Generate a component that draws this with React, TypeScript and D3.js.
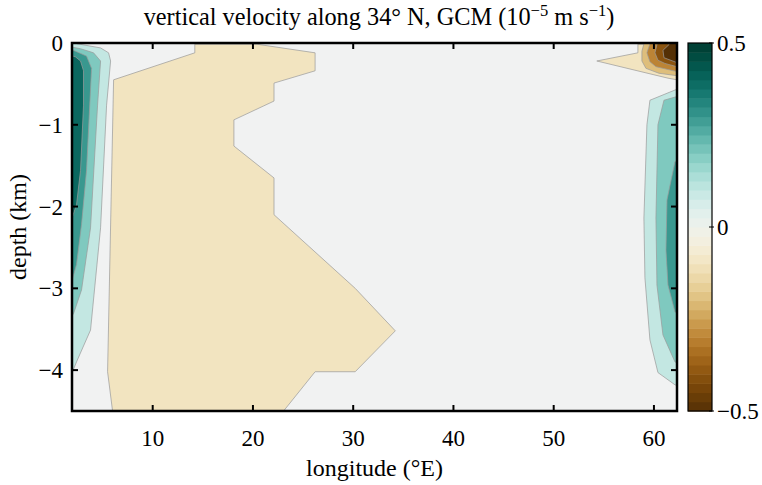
import React from 'react';
import * as d3 from 'd3';

type Pt = [number, number]; // [longitude °E, depth km]

// contour regions, [lon, depth]
const tanBasin: Pt[] = [[6.1, -4.6], [5.5, -4.02], [6.1, -0.45], [14.2, -0.12], [14.2, -0.015], [20.4, -0.015], [26.2, -0.12], [26.2, -0.34], [22.1, -0.49], [22.1, -0.71], [18.1, -0.94], [18.1, -1.26], [22.1, -1.65], [22.1, -2.1], [30.2, -3.0], [34.2, -3.52], [30.2, -4.02], [26.2, -4.02], [22.4, -4.6]];
const eastTan: Pt[] = [[54.3, -0.22], [58.4, -0.12], [58.4, -0.015], [63, -0.015], [63, -0.46], [62.3, -0.45], [61.4, -0.43]];
const eastBrown2: Pt[] = [[59.0, 0.05], [59.0, -0.01], [58.8, -0.10], [58.8, -0.22], [59.2, -0.31], [60.5, -0.37], [62.3, -0.40], [63, -0.41], [63, 0.05]];
const eastBrown3: Pt[] = [[59.6, 0.05], [59.6, -0.01], [59.3, -0.12], [59.6, -0.23], [60.2, -0.29], [62.3, -0.35], [63, -0.36], [63, 0.05]];
const eastBrown4: Pt[] = [[60.3, 0.05], [60.3, -0.02], [60.1, -0.12], [60.4, -0.21], [61.1, -0.25], [62.3, -0.29], [63, -0.30], [63, 0.05]];
const eastBrown5: Pt[] = [[61.5, 0.05], [61.5, -0.02], [60.9, -0.09], [61.0, -0.18], [62.3, -0.24], [63, -0.25], [63, 0.05]];

const westTeal1: Pt[] = [[1.5, 0.1], [2.5, -0.01], [4.8, -0.06], [5.6, -0.12], [5.8, -0.22], [5.4, -0.76], [4.8, -2.26], [3.8, -3.51], [2.4, -3.9], [2.0, -4.02], [1.5, -4.1]];
const westTeal2: Pt[] = [[1.5, -0.04], [2.8, -0.07], [4.1, -0.12], [4.8, -0.22], [4.5, -0.76], [3.8, -2.26], [2.9, -3.02], [2.1, -3.31], [1.5, -3.4]];
const westTeal3: Pt[] = [[1.5, -0.06], [2.3, -0.10], [3.4, -0.16], [3.9, -0.31], [3.4, -1.56], [2.9, -2.22], [2.4, -2.71], [1.5, -3.1]];
const westTeal4: Pt[] = [[1.5, -0.14], [2.3, -0.17], [2.8, -0.22], [3.1, -0.34], [3.1, -0.76], [2.8, -1.56], [2.4, -1.98], [1.5, -2.3]];

const eastTeal1: Pt[] = [[63, -0.55], [62.2, -0.57], [59.6, -0.70], [59.3, -1.0], [59.0, -2.14], [59.1, -2.87], [59.6, -3.63], [60.4, -4.03], [62.1, -4.18], [63, -4.22]];
const eastTeal2: Pt[] = [[63, -0.63], [61.0, -0.70], [60.4, -1.0], [60.2, -2.14], [60.3, -2.96], [60.9, -3.57], [62.1, -3.9], [63, -3.95]];
const eastTeal3: Pt[] = [[63, -1.4], [62.1, -1.45], [61.3, -1.92], [61.2, -2.53], [61.4, -2.96], [62.1, -3.29], [63, -3.35]];

// drawing order: weakest first
const bands: { level: number; pts: Pt[] }[] = [
  { level: -0.1, pts: tanBasin },
  { level: -0.1, pts: eastTan },
  { level: -0.2, pts: eastBrown2 },
  { level: -0.3, pts: eastBrown3 },
  { level: -0.4, pts: eastBrown4 },
  { level: -0.5, pts: eastBrown5 },
  { level: 0.1, pts: westTeal1 },
  { level: 0.2, pts: westTeal2 },
  { level: 0.3, pts: westTeal3 },
  { level: 0.4, pts: westTeal4 },
  { level: 0.1, pts: eastTeal1 },
  { level: 0.2, pts: eastTeal2 },
  { level: 0.3, pts: eastTeal3 },
];

const lonTicks = [10, 20, 30, 40, 50, 60];
const depthTicks = [0, -1, -2, -3, -4];
const cbarTicks = [0.5, 0, -0.5];

const W = 762, H = 485;
const plot = { left: 72, right: 677, top: 43, bottom: 411 };
const cbar = { left: 688, right: 712 };
const serif = '"Liberation Serif", "DejaVu Serif", serif';
const fmt = (v: number) => (v < 0 ? '\u2212' + Math.abs(v) : String(v));

export default function App() {
  const x = d3.scaleLinear().domain([1.95, 62.3]).range([plot.left, plot.right]);
  const y = d3.scaleLinear().domain([0, -4.5]).range([plot.top, plot.bottom]);
  const color = (v: number) => d3.interpolateBrBG(0.5 + v);
  const cy = d3.scaleLinear().domain([0.5, -0.5]).range([plot.top, plot.bottom]);
  const path = d3.line<Pt>().x(d => x(d[0])).y(d => y(d[1])).curve(d3.curveLinearClosed);
  const steps = d3.range(-0.5, 0.5, 0.025);

  return (
    <svg width={W} height={H} style={{ position: 'absolute', left: 0, top: 0, background: '#fff' }} fontFamily={serif}>
      <defs>
        <clipPath id="plotclip">
          <rect x={plot.left} y={plot.top} width={plot.right - plot.left} height={plot.bottom - plot.top} />
        </clipPath>
      </defs>
      <g clipPath="url(#plotclip)">
        <rect x={plot.left} y={plot.top} width={plot.right - plot.left} height={plot.bottom - plot.top} fill="#f1f2f2" />
        {bands.map((b, i) => (
          <path key={i} d={path(b.pts) || ''} fill={color(b.level)} stroke="#9a9a9a" strokeOpacity={0.8} strokeWidth={0.9} />
        ))}
      </g>

      {/* ticks, inward on all four sides */}
      {lonTicks.map(t => (
        <g key={'x' + t}>
          <line x1={x(t)} x2={x(t)} y1={plot.bottom} y2={plot.bottom - 6} stroke="#000" strokeWidth={2} />
          <line x1={x(t)} x2={x(t)} y1={plot.top} y2={plot.top + 6} stroke="#000" strokeWidth={2} />
          <text x={x(t)} y={446} fontSize={23} textAnchor="middle">{t}</text>
        </g>
      ))}
      {depthTicks.map(t => (
        <g key={'y' + t}>
          <line x1={plot.left} x2={plot.left + 6} y1={y(t)} y2={y(t)} stroke="#000" strokeWidth={2} />
          <line x1={plot.right} x2={plot.right - 6} y1={y(t)} y2={y(t)} stroke="#000" strokeWidth={2} />
          <text x={63} y={y(t) + 8} fontSize={23} textAnchor="end">{fmt(t)}</text>
        </g>
      ))}
      <rect x={plot.left} y={plot.top} width={plot.right - plot.left} height={plot.bottom - plot.top} fill="none" stroke="#000" strokeWidth={2.5} />

      <text x={379} y={25} fontSize={24.3} textAnchor="middle">
        vertical velocity along 34° N, GCM (10<tspan fontSize={16.5} dy={-9}>{'\u22125'}</tspan>
        <tspan dy={9}> m s</tspan><tspan fontSize={16.5} dy={-9}>{'\u22121'}</tspan><tspan dy={9}>)</tspan>
      </text>
      <text x={(plot.left + plot.right) / 2} y={476} fontSize={24} textAnchor="middle">longitude (°E)</text>
      <text transform={`translate(26,${(plot.top + plot.bottom) / 2}) rotate(-90)`} fontSize={24} textAnchor="middle">depth (km)</text>

      {/* colour bar */}
      {steps.map((s, i) => (
        <rect key={i} x={cbar.left} y={cy(s + 0.025)} width={cbar.right - cbar.left} height={cy(s) - cy(s + 0.025) + 0.5} fill={color(s + 0.0125)} />
      ))}
      <rect x={cbar.left} y={plot.top} width={cbar.right - cbar.left} height={plot.bottom - plot.top} fill="none" stroke="#000" strokeWidth={1.2} />
      {cbarTicks.map(t => (
        <g key={'c' + t}>
          <line x1={cbar.right - 3} x2={cbar.right + 2} y1={cy(t)} y2={cy(t)} stroke="#000" strokeWidth={1} />
          <text x={717} y={cy(t) + 8} fontSize={23}>{fmt(t)}</text>
        </g>
      ))}
    </svg>
  );
}
